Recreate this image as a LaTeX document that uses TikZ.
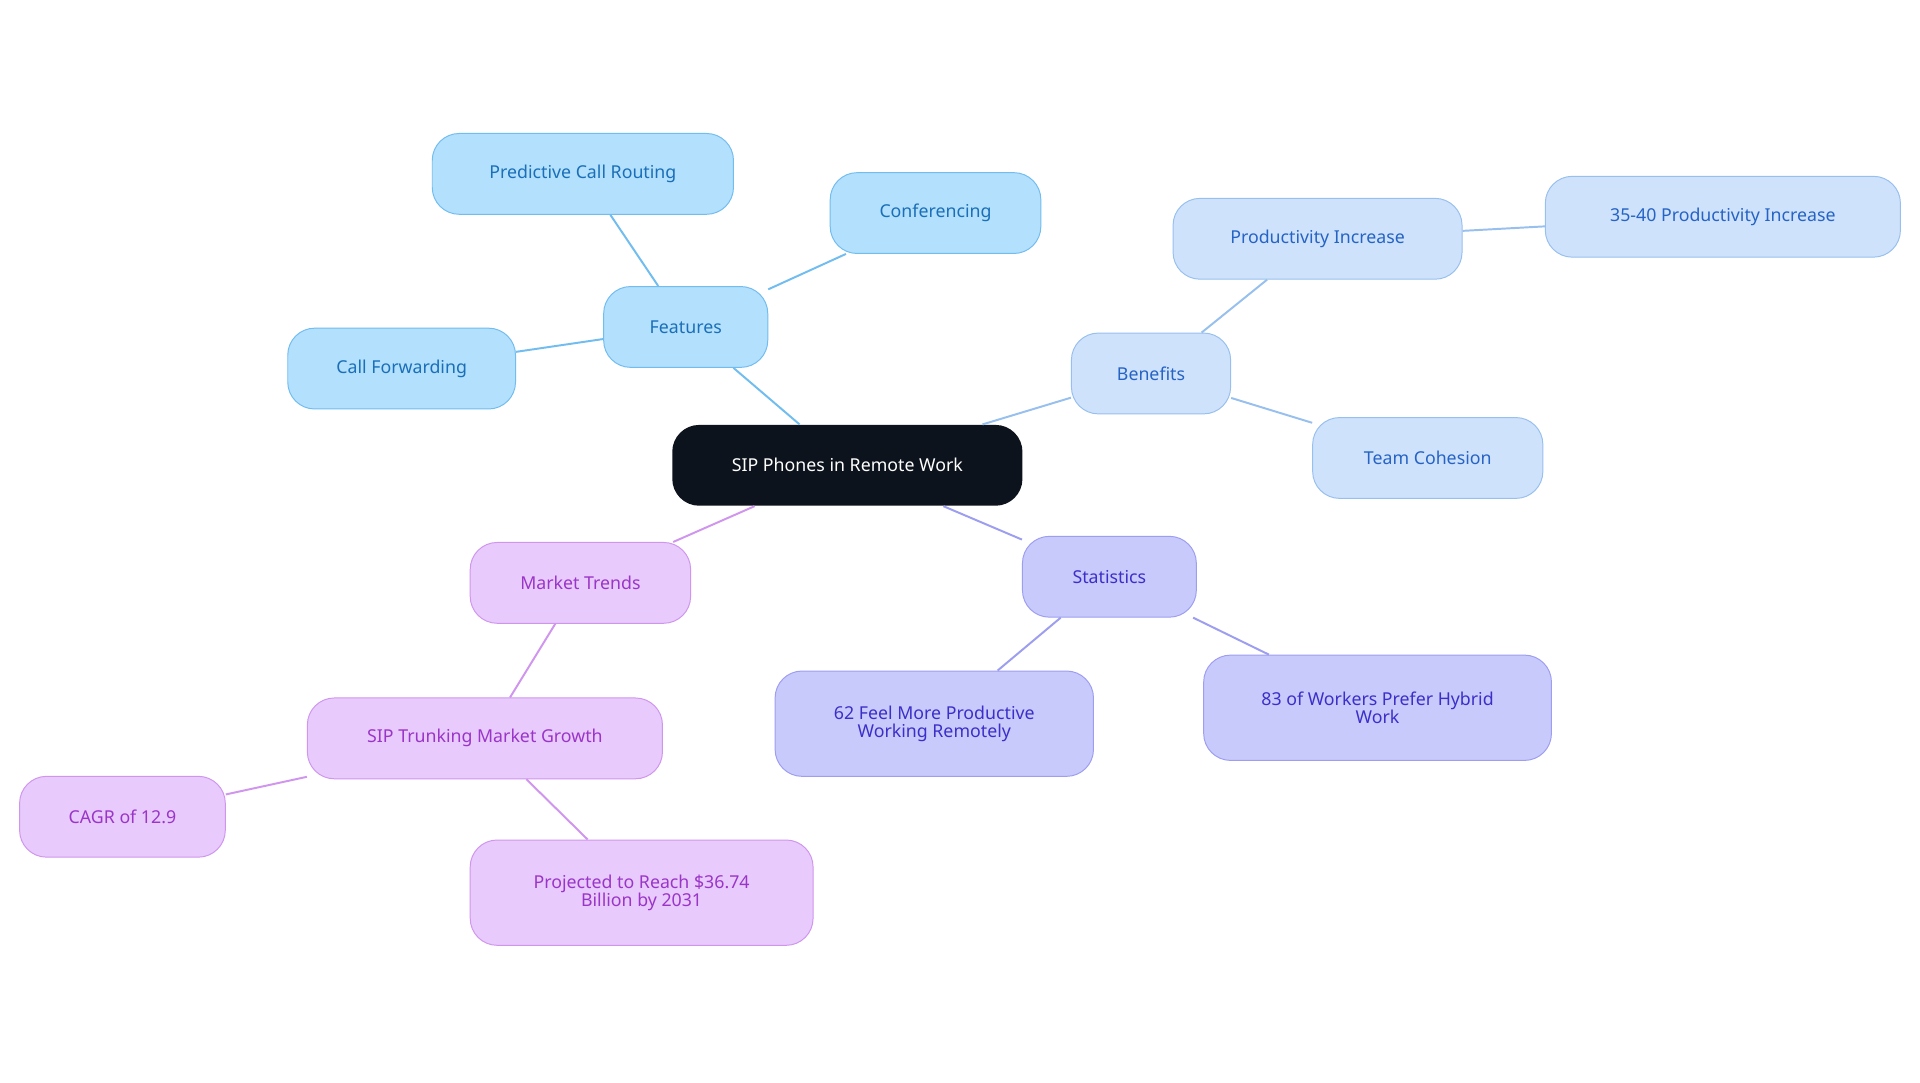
\documentclass[tikz,border=0pt]{standalone}
\usepackage{fontspec}
\setmainfont{Noto Sans}
\begin{document}
\begin{tikzpicture}[x=1pt,y=-1pt,
  box/.style={draw,line width=0.8pt,rounded corners=22pt,minimum height=66pt,align=center,font=\fontsize{14.5}{15}\selectfont,inner sep=0pt},
  feat/.style={box,fill=featf,draw=featd,text=featt},
  ben/.style={box,fill=benf,draw=bend,text=bent},
  stat/.style={box,fill=statf,draw=statd,text=statt},
  mkt/.style={box,fill=markf,draw=markd,text=markt},
  fe/.style={draw=featd,line width=1.6pt},
  be/.style={draw=bend,line width=1.6pt},
  se/.style={draw=statd,line width=1.6pt},
  me/.style={draw=markd,line width=1.6pt}]
\definecolor{featf}{HTML}{B3E0FD}\definecolor{featd}{HTML}{72BDEF}\definecolor{featt}{HTML}{1A6FB8}
\definecolor{benf}{HTML}{CFE2FC}\definecolor{bend}{HTML}{98C0EE}\definecolor{bent}{HTML}{2563C4}
\definecolor{statf}{HTML}{C9CAFC}\definecolor{statd}{HTML}{9D9EF0}\definecolor{statt}{HTML}{3B2FC9}
\definecolor{markf}{HTML}{E8CAFC}\definecolor{markd}{HTML}{D096EE}\definecolor{markt}{HTML}{9B35C8}
\definecolor{rootf}{HTML}{0D131C}
\useasboundingbox[fill=white] (0,0) rectangle (1568,884);
\node[box,fill=rootf,draw=none,text=white,minimum width=286pt] (root) at (692,380) {SIP Phones in Remote Work};
\node[feat,minimum width=134pt] (f) at (560,267) {Features};
\node[feat,minimum width=246pt] (f1) at (476,142) {Predictive Call Routing};
\node[feat,minimum width=172pt] (f2) at (764,174) {Conferencing};
\node[feat,minimum width=186pt] (f3) at (328,301) {Call Forwarding};
\node[ben,minimum width=130pt] (b) at (940,305) {Benefits};
\node[ben,minimum width=236pt] (b1) at (1076,195) {Productivity Increase};
\node[ben,minimum width=290pt] (b2) at (1407,177) {35-40 Productivity Increase};
\node[ben,minimum width=188pt] (b3) at (1166,374) {Team Cohesion};
\node[stat,minimum width=142pt] (s) at (906,471) {Statistics};
\node[stat,minimum width=260pt,minimum height=86pt] (s1) at (763,591) {62 Feel More Productive\\Working Remotely};
\node[stat,minimum width=284pt,minimum height=86pt] (s2) at (1125,578) {83 of Workers Prefer Hybrid\\Work};
\node[mkt,minimum width=180pt] (m) at (474,476) {Market Trends};
\node[mkt,minimum width=290pt] (m1) at (396,603) {SIP Trunking Market Growth};
\node[mkt,minimum width=168pt] (m2) at (100,667) {CAGR of 12.9};
\node[mkt,minimum width=280pt,minimum height=86pt] (m3) at (524,729) {Projected to Reach \$36.74\\Billion by 2031};
\path[fe] (root) -- (f); \path[fe] (f) -- (f1); \path[fe] (f) -- (f2); \path[fe] (f) -- (f3);
\path[be] (root) -- (b); \path[be] (b) -- (b1); \path[be] (b1) -- (b2); \path[be] (b) -- (b3);
\path[se] (root) -- (s); \path[se] (s) -- (s1); \path[se] (s) -- (s2);
\path[me] (root) -- (m); \path[me] (m) -- (m1); \path[me] (m1) -- (m2); \path[me] (m1) -- (m3);
\end{tikzpicture}
\end{document}
